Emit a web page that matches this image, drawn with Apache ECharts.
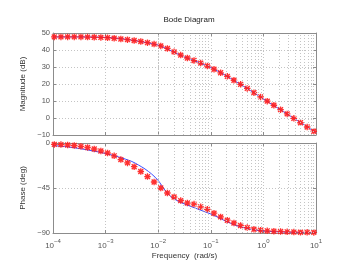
<!DOCTYPE html>
<html>
<head>
<meta charset="utf-8">
<script src="https://cdn.jsdelivr.net/npm/echarts@6/dist/echarts.min.js"></script>
<style>html,body{margin:0;padding:0;background:#fff}#c{width:349px;height:263px}</style>
</head>
<body>
<div id="c"></div>
<script>
// ---- data ----
const starFreqExp = [-3.975,-3.849,-3.722,-3.596,-3.469,-3.343,-3.216,-3.090,-2.963,-2.837,
  -2.710,-2.584,-2.457,-2.331,-2.204,-2.078,-1.951,-1.825,-1.698,-1.572,
  -1.445,-1.319,-1.192,-1.066,-0.939,-0.813,-0.686,-0.560,-0.433,-0.307,
  -0.180,-0.054,0.073,0.199,0.326,0.452,0.579,0.705,0.832,0.958];
const magStars = [47.7,47.7,47.7,47.7,47.7,47.6,47.5,47.4,47.2,46.9,
  46.5,46.1,45.6,45.0,44.3,43.5,42.4,40.9,38.9,37.0,
  35.3,33.8,32.3,30.6,28.7,26.6,24.5,22.2,19.8,17.4,
  14.9,12.4,9.9,7.5,4.9,2.4,-0.2,-2.8,-5.3,-7.8];
const phaseStars = [-1.4,-1.6,-2.0,-2.5,-3.3,-4.5,-6.0,-8.0,-10.0,-12.8,
  -16.6,-19.9,-23.7,-28.5,-33.6,-39.0,-45.0,-50.0,-54.0,-57.6,
  -60.0,-61.1,-63.8,-66.3,-70.2,-73.9,-77.2,-80.0,-82.5,-84.6,
  -86.2,-87.2,-87.8,-88.2,-88.5,-88.8,-89.0,-89.2,-89.3,-89.4];
const magLineExp = [-4,-3.5,-3,-2.75,-2.5,-2.25,-2,-1.875,-1.75,-1.625,-1.5,-1.375,-1.25,-1.125,-1,-0.75,-0.5,-0.25,0,0.5,1];
const magLine = [47.7,47.7,47.4,46.8,45.8,44.5,42.9,41.3,39.5,37.6,35.9,34.4,33.0,31.4,29.7,25.6,21.0,16.2,11.2,1.4,-8.6];
const phaseLineExp = [-4,-3.75,-3.5,-3.25,-3,-2.75,-2.5,-2.375,-2.25,-2.125,-2,-1.875,-1.75,-1.625,-1.5,-1.375,-1.25,-1.125,-1,-0.875,-0.75,-0.625,-0.5,-0.25,0,0.5,1];
const phaseLine = [-2.6,-3.7,-5.5,-7.8,-10.5,-14,-18.5,-22,-26,-31,-37.5,-47,-54,-58,-61,-63.5,-66,-68.5,-71,-74,-77.3,-80.3,-82.8,-86.2,-88,-89.2,-89.6];
const xTickExps = [-4,-3,-2,-1,0,1];
const magTicks = [-10,0,10,20,30,40,50];
const phaseTicks = [-90,-45,0];

// ---- build ----
const toPts = (ex, ys) => ys.map((v, i) => [Math.pow(10, ex[i]), v]);
const minorX = [];
for (let d = -4; d < 1; d++) for (let k = 2; k <= 9; k++) minorX.push({ xAxis: k * Math.pow(10, d) });

const gray = '#8c8c8c', gridCol = '#c4c4c4', txt = '#555';
const starPath = 'path://M4.0 0H6.0V10H4.0Z M0 4.0H10V6.0H0Z M0.5 2.0L2.0 0.5L9.5 8.0L8.0 9.5Z M8.0 0.5L9.5 2.0L2.0 9.5L0.5 8.0Z';
const font = 'Liberation Sans, Arial, Helvetica, sans-serif';

function xAx(gi, show, pos) {
  return {
    type: 'log', logBase: 10, gridIndex: gi, min: 1e-4, max: 10, position: pos,
    axisLine: { show: true, onZero: false, lineStyle: { color: gray, width: 1 } },
    axisTick: { show: true, inside: true, length: 3, lineStyle: { color: gray } },
    minorTick: { show: false },
    splitLine: { show: pos === 'bottom', lineStyle: { color: gridCol, type: [1, 2], width: 1 } },
    axisLabel: show ? {
      show: true, margin: 5, fontFamily: font,
      formatter: v => { const e = Math.round(Math.log10(v)); return xTickExps.indexOf(e) >= 0 ? '{b|10}{s|' + (e < 0 ? '\u2212' + (-e) : e) + '}' : ''; },
      rich: { b: { fontSize: 8, color: txt, fontFamily: font, lineHeight: 12, verticalAlign: 'bottom', padding: [4, 0, 0, 0] },
              s: { fontSize: 6, color: txt, fontFamily: font, lineHeight: 12, verticalAlign: 'top' } }
    } : { show: false },
    name: show ? 'Frequency  (rad/s)' : '', nameLocation: 'middle', nameGap: 19,
    nameTextStyle: { fontSize: 8, color: '#333', fontFamily: font }
  };
}
function yAx(gi, min, max, iv, name, pos, gap) {
  const main = pos === 'left';
  return {
    type: 'value', gridIndex: gi, min: min, max: max, interval: iv, position: pos,
    axisLine: { show: true, onZero: false, lineStyle: { color: gray, width: 1 } },
    axisTick: { show: true, inside: true, length: 3, lineStyle: { color: gray } },
    splitLine: { show: main, lineStyle: { color: gridCol, type: [1, 2], width: 1 } },
    axisLabel: main ? { show: true, fontSize: 7.5, color: txt, fontFamily: font, margin: 3,
      formatter: v => (v < 0 ? '\u2212' + (-v) : '' + v) } : { show: false },
    name: main ? name : '', nameLocation: 'middle', nameGap: gap, nameRotate: 90,
    nameTextStyle: { fontSize: 8, color: '#333', fontFamily: font }
  };
}
const mlStyle = { silent: true, symbol: 'none', label: { show: false },
  lineStyle: { color: gridCol, type: [1, 2], width: 1 }, data: minorX, animation: false };

const option = {
  animation: false,
  title: { text: 'Bode Diagram', left: 184, top: 11, textAlign: 'center',
    textStyle: { fontSize: 8, fontWeight: 'normal', color: '#222', fontFamily: font } },
  grid: [
    { left: 53, top: 33, width: 263, height: 102 },
    { left: 53, top: 143, width: 263, height: 90 }
  ],
  xAxis: [xAx(0, false, 'bottom'), xAx(1, true, 'bottom'), xAx(0, false, 'top'), xAx(1, false, 'top')],
  yAxis: [
    yAx(0, magTicks[0], magTicks[magTicks.length - 1], 10, 'Magnitude (dB)', 'left', 21),
    yAx(1, phaseTicks[0], phaseTicks[phaseTicks.length - 1], 45, 'Phase (deg)', 'left', 21),
    yAx(0, magTicks[0], magTicks[magTicks.length - 1], 10, '', 'right', 0),
    yAx(1, phaseTicks[0], phaseTicks[phaseTicks.length - 1], 45, '', 'right', 0)
  ],
  series: [
    { type: 'line', xAxisIndex: 0, yAxisIndex: 0, data: toPts(magLineExp, magLine), smooth: 0.3,
      showSymbol: false, lineStyle: { color: '#3a4dff', width: 1 }, z: 3, markLine: mlStyle },
    { type: 'scatter', xAxisIndex: 0, yAxisIndex: 0, data: toPts(starFreqExp, magStars),
      symbol: starPath, symbolSize: 6.5, itemStyle: { color: '#ff1a1a', opacity: 0.9 }, z: 4 },
    { type: 'line', xAxisIndex: 1, yAxisIndex: 1, data: toPts(phaseLineExp, phaseLine), smooth: 0.3,
      showSymbol: false, lineStyle: { color: '#3a4dff', width: 1 }, z: 3, markLine: mlStyle },
    { type: 'scatter', xAxisIndex: 1, yAxisIndex: 1, data: toPts(starFreqExp, phaseStars),
      symbol: starPath, symbolSize: 6.5, itemStyle: { color: '#ff1a1a', opacity: 0.9 }, z: 4 }
  ]
};
const chart = echarts.init(document.getElementById('c'), null, { renderer: 'canvas' });
chart.setOption(option);
</script>
</body>
</html>
